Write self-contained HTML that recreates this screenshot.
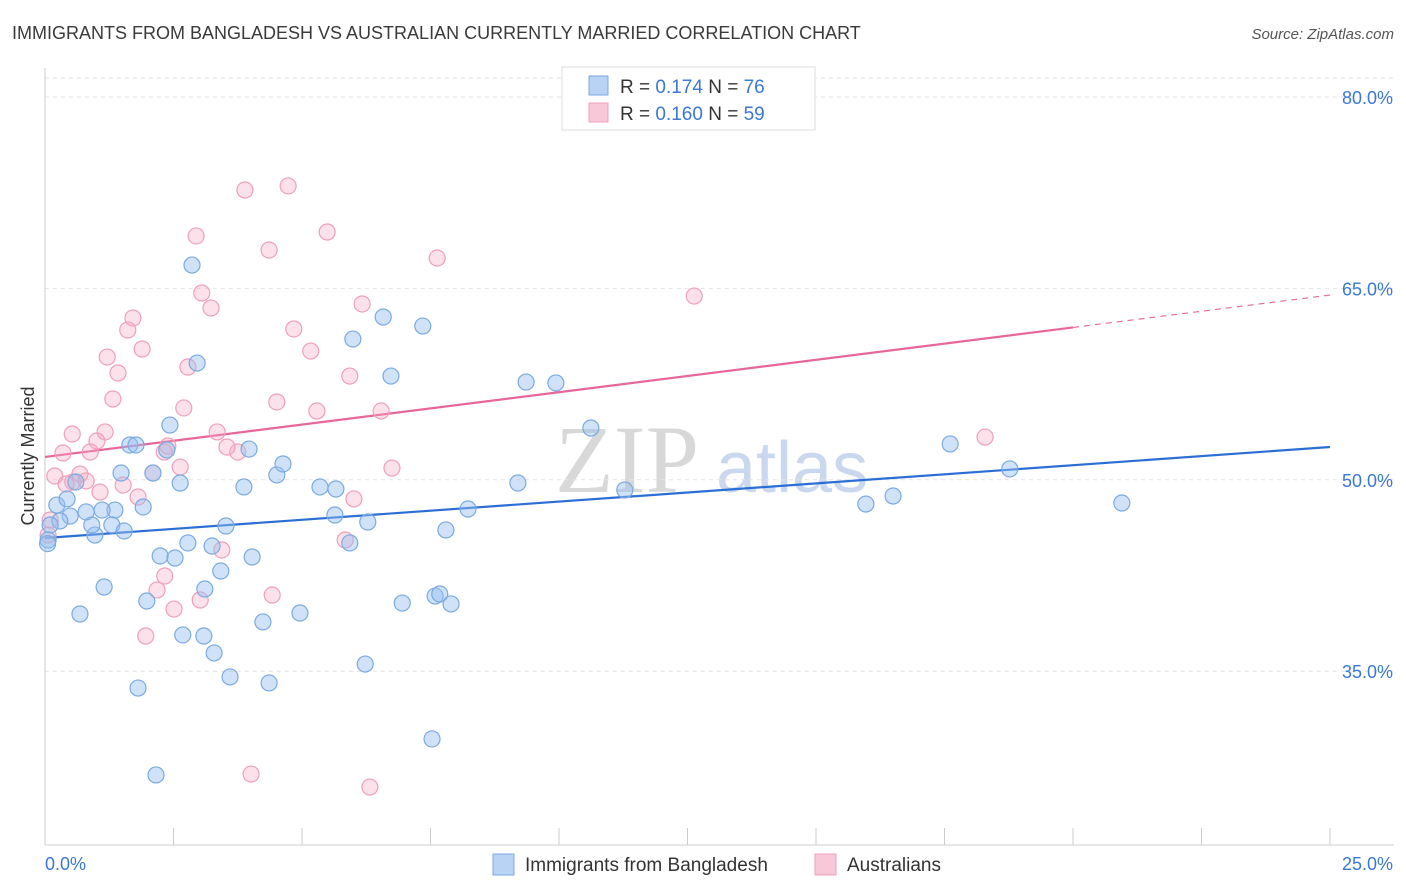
<!DOCTYPE html>
<html><head><meta charset="utf-8">
<style>
body{margin:0;background:#fff;font-family:"Liberation Sans",sans-serif;}
#wrap{position:relative;width:1406px;height:892px;overflow:hidden;}
</style></head>
<body>
<div id="wrap">
<svg id="svg" width="1406" height="892" xmlns="http://www.w3.org/2000/svg">
  <text x="12" y="39" font-size="18" fill="#3a3a3a">IMMIGRANTS FROM BANGLADESH VS AUSTRALIAN CURRENTLY MARRIED CORRELATION CHART</text>
  <text x="1394" y="39" font-size="15" fill="#555" font-style="italic" text-anchor="end">Source: ZipAtlas.com</text>
  <text x="34" y="456" font-size="18" fill="#333" text-anchor="middle" transform="rotate(-90 34 456)">Currently Married</text>
  <text x="555" y="492" font-size="96" fill="#d8d8d8" font-family="Liberation Serif, serif">ZIP</text>
  <text x="716" y="492" font-size="72" fill="#c9d8ee">atlas</text>
  <g id="grid"></g>
  <g id="axes"></g>
  <g id="lines"></g>
  <g id="pts"></g>
  <g>
    <rect x="562" y="67" width="253" height="63" fill="#fff" stroke="#ddd"/>
    <rect x="589" y="76" width="19" height="19" fill="#b9d3f5" stroke="#7aaae0"/>
    <text x="620" y="93" font-size="19" fill="#333">R = <tspan fill="#3a78d6">0.174</tspan>   N = <tspan fill="#3a78d6">76</tspan></text>
    <rect x="589" y="103" width="19" height="19" fill="#f9c8d8" stroke="#eea0b8"/>
    <text x="620" y="120" font-size="19" fill="#333">R = <tspan fill="#3a78d6">0.160</tspan>   N = <tspan fill="#3a78d6">59</tspan></text>
  </g>
  <g>
    <rect x="493" y="854" width="21" height="21" fill="#b9d3f5" stroke="#7aaae0"/>
    <text x="525" y="871" font-size="19" fill="#333">Immigrants from Bangladesh</text>
    <rect x="815" y="854" width="21" height="21" fill="#f9c8d8" stroke="#eea0b8"/>
    <text x="847" y="871" font-size="19" fill="#333">Australians</text>
  </g>
</svg>
</div>
<script>
const xTicks=[0,2.5,5,7.5,10,12.5,15,17.5,20,22.5,25];
const yTicks=[35,50,65,80];
const yTickLabels=["35.0%","50.0%","65.0%","80.0%"];
const xEndLabels=["0.0%","25.0%"];
const blueX=[2.86,2.96,5.99,6.58,7.35,6.73,9.36,9.94,10.62,2.43,1.65,1.77,2.37,3.97,1.48,2.10,2.63,3.87,4.51,4.63,5.35,5.66,11.28,9.20,8.23,7.80,6.28,5.64,5.93,3.52,1.91,1.36,1.30,1.54,0.97,0.91,0.80,0.49,0.23,0.43,0.29,0.10,0.06,0.60,1.11,2.24,2.53,2.78,3.25,4.03,3.42,3.11,1.98,1.15,0.68,4.96,4.24,6.95,7.59,7.68,7.90,2.68,3.09,3.29,3.60,4.36,1.81,6.23,7.53,2.16,15.97,16.50,17.61,18.77,20.95,0.05];
const blueY=[66.83,59.15,61.03,62.76,62.05,58.13,57.66,57.59,54.06,54.29,52.73,52.73,52.34,52.41,50.53,50.53,49.75,49.44,50.38,51.24,49.44,49.28,49.20,49.75,47.71,46.07,46.69,47.24,45.05,46.38,47.87,47.63,46.46,45.99,45.67,46.46,47.48,47.16,48.02,48.5,46.77,46.46,45.28,49.83,47.63,44.03,43.87,45.05,44.81,43.95,42.85,41.44,40.50,41.60,39.48,39.56,38.86,40.34,40.89,41.05,40.27,37.84,37.76,36.43,34.55,34.08,33.68,35.56,29.69,26.87,48.10,48.73,52.81,50.85,48.18,45.0];
const pinkX=[3.89,4.73,2.94,4.36,5.49,7.63,3.05,3.23,1.71,1.61,6.17,4.84,5.17,1.21,1.89,1.42,2.78,5.93,1.32,2.70,4.51,5.29,6.54,0.53,1.17,1.01,3.35,0.35,0.88,2.39,2.32,3.75,3.54,6.75,2.63,2.10,0.68,0.19,0.54,0.80,0.41,1.52,1.07,1.81,6.01,5.84,3.44,2.33,2.18,4.42,3.02,2.51,1.96,4.01,6.32,12.63,18.29,0.10,0.06];
const pinkY=[72.71,73.03,69.11,68.01,69.42,67.38,64.64,63.46,62.68,61.74,63.78,61.82,60.09,59.62,60.25,58.37,58.84,58.13,56.33,55.63,56.1,55.39,55.39,53.59,53.75,53.04,53.75,52.1,52.18,52.65,52.18,52.18,52.57,50.92,51.0,50.53,50.45,50.30,49.83,49.91,49.67,49.59,49.04,48.65,48.5,45.28,44.5,42.46,41.36,40.97,40.58,39.87,37.76,26.94,25.92,64.4,53.35,46.85,45.67];
const blueTrend=[45.44,52.57];   // y at x=0, x=25
const pinkTrend=[51.79,64.48];
const pinkSolidEnd=[20.0];

const NS="http://www.w3.org/2000/svg";
const X=v=>45+v/25*1285;
const Y=v=>97+(80-v)*12.76;
function mk(t,a,p){const e=document.createElementNS(NS,t);for(const k in a)e.setAttribute(k,a[k]);p.appendChild(e);return e;}
const grid=document.getElementById('grid'),axes=document.getElementById('axes'),lines=document.getElementById('lines'),pts=document.getElementById('pts');
mk('line',{x1:45,y1:78,x2:1394,y2:78,stroke:'#e4e4e4','stroke-dasharray':'4,4'},grid);
yTicks.forEach((t,i)=>{
  const g=mk('line',{x1:45,y1:Y(t),x2:1394,y2:Y(t),stroke:'#e4e4e4','stroke-dasharray':'4,4'},grid);
  
  
  const l=mk('text',{x:1393,y:Y(t)+7,'font-size':18,fill:'#3a78d6','text-anchor':'end'},axes);
  l.textContent=yTickLabels[i];
  
  
});
mk('line',{x1:45,y1:68,x2:45,y2:845,stroke:'#ccc'},axes);
mk('line',{x1:45,y1:845,x2:1394,y2:845,stroke:'#ccc'},axes);
xTicks.forEach(t=>{
  const k=mk('line',{x1:X(t),y1:828,x2:X(t),y2:845,stroke:'#ccc'},axes);
  
  
});
const xl0=mk('text',{x:45,y:870,'font-size':18,fill:'#3a78d6'},axes);xl0.textContent=xEndLabels[0];


const xl1=mk('text',{x:1393,y:870,'font-size':18,fill:'#3a78d6','text-anchor':'end'},axes);xl1.textContent=xEndLabels[1];



function dot(x,y,fill,stroke,name){
  const c=mk('circle',{cx:X(x),cy:Y(y),r:8,fill:fill,stroke:stroke,'stroke-width':1.2},pts);
  
  
}
pinkX.forEach((x,i)=>dot(x,pinkY[i],'rgba(245,170,195,0.35)','#eea0b8','point-australians'));
blueX.forEach((x,i)=>dot(x,blueY[i],'rgba(150,190,240,0.45)','#7aaae0','point-bangladesh'));

const bl=mk('line',{x1:X(0),y1:Y(blueTrend[0]),x2:X(25),y2:Y(blueTrend[1]),stroke:'#2b6fd6','stroke-width':2.2},lines);


const py=x=>pinkTrend[0]+(pinkTrend[1]-pinkTrend[0])*x/25;
const pl=mk('line',{x1:X(0),y1:Y(py(0)),x2:X(pinkSolidEnd[0]),y2:Y(py(pinkSolidEnd[0])),stroke:'#e8679a','stroke-width':2.2},lines);


const pd=mk('line',{x1:X(pinkSolidEnd[0]),y1:Y(py(pinkSolidEnd[0])),x2:X(25),y2:Y(py(25)),stroke:'#e8679a','stroke-width':1.2,'stroke-dasharray':'6,5'},lines);


</script>
</body></html>
